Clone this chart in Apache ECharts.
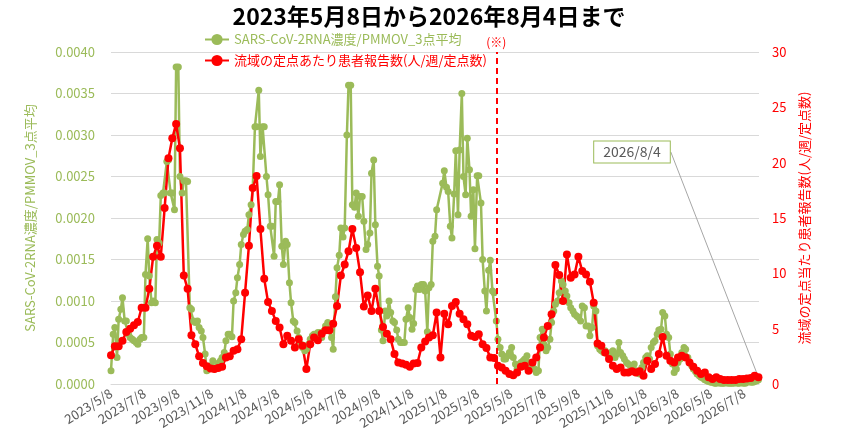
<!DOCTYPE html>
<html>
<head>
<meta charset="utf-8">
<script src="https://cdn.jsdelivr.net/npm/echarts@6/dist/echarts.min.js"></script>
<style>
html, body { margin: 0; padding: 0; background: #fff; }
#chart { width: 858px; height: 444px; }
</style>
</head>
<body>
<div id="chart"></div>
<script>
// axis range and label rule (every other month, on the 8th)
const startDate = [2023, 5, 8];
const endDate = [2026, 8, 4];
const tickMonths = [1, 3, 5, 7, 9, 11];
const tickDay = 8;
const noteDate = '2025/4/11';
const annotText = '2026/8/4';

// 流域の定点あたり患者報告数, weekly from 2023/5/8
const redValues = [
  2.6, 3.4, 3.4, 3.9, 4.7, 5.0, 5.3, 5.6, 6.9, 6.9, 8.6, 11.5, 12.5, 11.5, 15.9, 20.4, 22.2, 23.5, 21.3, 9.8,
  8.6, 4.4, 3.6, 2.5, 1.9, 1.6, 1.4,
  1.35, 1.45, 1.55, 2.4, 2.5, 3.0, 3.15, 4.05, 8.25, 12.5, 17.7, 18.8, 14.0, 9.5, 7.4, 6.6, 5.7, 5.1, 3.6, 4.35,
  3.9, 3.3, 4.05, 3.45, 1.35, 3.6, 4.2,
  3.95, 4.55, 4.85, 4.85, 5.45, 7.05, 9.8, 10.8, 12.0, 14.0, 12.3, 10.1, 7.0, 8.0, 6.6, 8.6, 6.6, 5.15, 4.55,
  4.05, 2.7, 1.95, 1.85, 1.75, 1.55, 1.85,
  1.9, 3.3, 3.85, 4.2, 4.4, 6.45, 2.4, 6.35, 5.4, 7.05, 7.4, 6.35, 5.85, 5.4, 4.35, 4.25, 4.5, 3.6, 3.25, 2.4,
  2.35, 1.65, 1.5, 1.2, 0.9, 0.8, 1.05, 1.55, 1.65,
  1.2, 1.95, 2.4, 3.3, 4.2, 5.25, 6.3, 10.75, 9.85, 7.5, 11.7, 9.6, 9.9, 11.5, 10.2, 9.9, 9.25, 7.35, 3.65,
  3.45, 2.85, 2.25, 1.65, 1.35, 1.5, 1.05, 1.05, 1.15,
  1.05, 1.15, 0.75, 2.1, 1.35, 1.8, 2.7, 4.25, 2.55, 2.1, 1.95, 2.4, 2.55, 2.4, 1.95, 1.55, 1.2, 0.9, 1.05, 0.6,
  0.45, 0.6, 0.45, 0.36, 0.36, 0.36, 0.36, 0.45, 0.45, 0.5, 0.55, 0.75, 0.6
];

// SARS-CoV-2RNA濃度/PMMOV_3点平均, twice a week from 2023/5/8 (null = no sample)
const greenValues = [
  0.00016, 0.0006, 0.00068, 0.00032, 0.00078, 0.0009, 0.00104, 0.00076, 0.00076, 0.0006,
  0.00056, 0.00054, 0.00052, 0.0005, 0.00048, 0.00054, 0.00056, 0.00056, 0.00132, 0.00175,
  0.0013, 0.00098, 0.001, 0.00098, 0.00174, 0.0017, 0.00227, 0.0023, 0.0023, 0.00268,
  0.0027, 0.0023, 0.0023, 0.0021, 0.00382, 0.00382, 0.0025, 0.0023, 0.00245, 0.00245,
  0.00244, 0.00092, 0.0009, 0.00076, 0.00074, 0.00076, 0.00068, 0.00064, 0.00056, 0.00036,
  0.00016, 0.0002, 0.00022, 0.00028,
  0.00018, 0.0002, 0.00025, 0.00028, 0.00032, 0.00038, 0.00052, 0.0006, 0.0006, 0.00057,
  0.001, 0.0011, 0.00128, 0.00144, 0.00168, 0.0018, 0.00184, 0.00186, 0.00204, 0.00216,
  0.00236, 0.0031, 0.0031, 0.00354, 0.00274, 0.0031, 0.0031, 0.0025, 0.00228, 0.0019,
  0.0019, 0.00154, 0.0022, 0.0022, 0.0024, 0.00166, 0.00144, 0.00172, 0.00168, 0.00122,
  0.00098, 0.00076, 0.00074, 0.00064, 0.00056, 0.00048, 0.00044, 0.0004, 0.00042, 0.00048,
  0.00054, 0.00058, 0.0006, 0.0006, 0.00062, 0.00062,
  0.00056, 0.00064, 0.0007, 0.00074, 0.00064, 0.00056, 0.00042, 0.00105, 0.0014, 0.00155,
  0.00188, 0.00177, 0.00188, 0.003, 0.0036, 0.0036, 0.00216, 0.00213, 0.0023, 0.00202,
  0.00226, 0.00226, 0.00196, 0.00162, 0.00168, 0.00182, 0.00254, 0.0027, 0.00192, 0.00142,
  0.0013, 0.00065, 0.00052, 0.00088, 0.00082, 0.001, 0.00086, 0.00076, 0.00074, 0.00065,
  0.00054, 0.0005, 0.0005, 0.0005, 0.00078, 0.00092, 0.0008, 0.00066, 0.00073, 0.00114,
  0.00118, 0.00114, 0.0012,
  0.0012, 0.00112, 0.00063, 0.00116, 0.0012, 0.00172, 0.00178, 0.0021, null, null,
  0.00242, 0.00257, 0.00237, 0.00232, 0.0019, 0.00176, 0.00229, 0.00281, 0.00204, 0.00282,
  0.0035, 0.0025, 0.00228, 0.00296, 0.00258, 0.00202, 0.00234, 0.00163, 0.00251, 0.00251,
  0.00218, 0.0015, 0.00112, 0.00088, 0.00137, 0.00149, 0.00112, 0.0011, 0.00076, 0.00054,
  0.00044, 0.00036, 0.0003, 0.0003, 0.00034, 0.00038, 0.00044, 0.00032, 0.00024, 0.00018,
  0.00022, 0.00026, 0.00028, 0.0003, 0.00034,
  0.00026, 0.00018, 0.00024, 0.00018, 0.00014, 0.00016, 0.00056, 0.00066, 0.00048, 0.0004,
  0.00044, 0.00054, 0.00074, 0.00088, 0.00096, 0.001, 0.0011, 0.00124, 0.0012, 0.00112,
  0.00106, 0.00098, 0.00092, 0.00088, 0.00084, 0.00082, 0.0008, 0.00076, 0.00094, 0.00092,
  0.0007, 0.0007, 0.00058, 0.00068, 0.00094, 0.00088, 0.00046, 0.00042, 0.0004, 0.00038,
  0.0004, 0.00036, 0.00032, 0.00038, 0.0004, 0.00032, 0.00036, 0.0005, 0.00038, 0.00034,
  0.0003, 0.00026, 0.00024, 0.00022, 0.00022, 0.00024,
  0.00016, 0.00013, 0.00012, 0.0002, 0.00026, 0.00032, 0.00034, 0.0003, 0.00044, 0.0005,
  0.00052, 0.0006, 0.00065, 0.00066, 0.00086, 0.00082, 0.0006, 0.00056, 0.00036, 0.00024,
  0.00014, 0.00018, 0.00026, 0.0003, 0.00038, 0.00044, 0.00042, 0.00032, 0.00026, 0.00022,
  0.00018, 0.00015, 0.00012, 0.0001, 0.00008, 0.00007, 0.00005, 0.00004,
  0.00003, 0.00002, 0.00002, 0.00001, 0.00001, 0.00002, 0.00001, 0.00001, 0.00001, 0.00002,
  0.00001, 0.00001, 0.00001, 0.00001, 0.00002, 0.00001, 0.00001, 0.00002, 0.00001, 0.00001,
  0.00002, 0.00003, 0.00002, 0.00002, 0.00003, 0.00004, 0.00005
];

const GREEN = '#9BBB59';
const RED = '#FF0000';
const GREY = '#595959';
const FONT = '"Noto Sans CJK JP", "Noto Sans", sans-serif';

// one category per day
const categories = [];
let t = Date.UTC(startDate[0], startDate[1] - 1, startDate[2]);
const tEnd = Date.UTC(endDate[0], endDate[1] - 1, endDate[2]);
while (t <= tEnd) {
    const d = new Date(t);
    categories.push(d.getUTCFullYear() + '/' + (d.getUTCMonth() + 1) + '/' + d.getUTCDate());
    t += 86400000;
}

const greenData = [];
greenValues.forEach((v, j) => {
    if (v !== null) greenData.push([Math.round(j * 3.5), v]);
});

const redData = redValues.map((v, i) => [i * 7, v]);
const last = redData.length - 1;
redData[last] = {
    value: redData[last],
    label: {
        show: true,
        formatter: annotText,
        color: GREY,
        fontSize: 14,
        fontFamily: FONT,
        backgroundColor: '#fff',
        borderColor: GREEN,
        borderWidth: 1,
        padding: [4, 9, 3, 9]
    },
    labelLine: {show: true, lineStyle: {color: '#a6a6a6', width: 1}}
};

const chart = echarts.init(document.getElementById('chart'));

const option = {
    animation: false,
    textStyle: {fontFamily: FONT},
    title: {
        text: '2023年5月8日から2026年8月4日まで',
        left: 'center',
        top: 0,
        textStyle: {fontSize: 23, fontWeight: 'bold', color: '#000', fontFamily: FONT}
    },
    legend: {
        orient: 'vertical',
        left: 199,
        top: 28,
        itemWidth: 24,
        itemHeight: 14,
        itemGap: 8,
        data: [
            {name: 'SARS-CoV-2RNA濃度/PMMOV_3点平均', textStyle: {color: GREEN}},
            {name: '流域の定点あたり患者報告数(人/週/定点数)', textStyle: {color: RED}}
        ],
        textStyle: {fontSize: 13, fontFamily: FONT}
    },
    grid: {left: 111, right: 99, top: 52, bottom: 60},
    xAxis: {
        type: 'category',
        data: categories,
        boundaryGap: false,
        axisLine: {show: true, lineStyle: {color: '#d9d9d9'}},
        axisTick: {show: false},
        axisLabel: {
            rotate: 32,
            color: GREY,
            fontSize: 13,
            margin: 8,
            interval: function (index, value) {
                const p = value.split('/');
                return +p[2] === tickDay && tickMonths.indexOf(+p[1]) >= 0;
            }
        }
    },
    yAxis: [
        {
            type: 'value',
            min: 0,
            max: 0.004,
            interval: 0.0005,
            name: 'SARS-CoV-2RNA濃度/PMMOV_3点平均',
            nameLocation: 'middle',
            nameGap: 74,
            nameTextStyle: {color: GREEN, fontSize: 13},
            axisLine: {show: false},
            axisTick: {show: false},
            axisLabel: {color: GREEN, fontSize: 13, margin: 16, formatter: v => v.toFixed(4)},
            splitLine: {lineStyle: {color: '#d9d9d9'}}
        },
        {
            type: 'value',
            min: 0,
            max: 30,
            interval: 5,
            position: 'right',
            name: '流域の定点当たり患者報告数(人/週/定点数)',
            nameLocation: 'middle',
            nameGap: 39,
            nameRotate: 90,
            nameTextStyle: {color: RED, fontSize: 13},
            axisLine: {show: false},
            axisTick: {show: false},
            axisLabel: {color: RED, fontSize: 13, margin: 13},
            splitLine: {show: false}
        }
    ],
    series: [
        {
            name: 'SARS-CoV-2RNA濃度/PMMOV_3点平均',
            type: 'line',
            yAxisIndex: 0,
            data: greenData,
            symbol: 'circle',
            symbolSize: 7,
            showAllSymbol: true,
            color: GREEN,
            lineStyle: {width: 2.5, color: GREEN},
            itemStyle: {color: GREEN}
        },
        {
            name: '流域の定点あたり患者報告数(人/週/定点数)',
            type: 'line',
            yAxisIndex: 1,
            data: redData,
            symbol: 'circle',
            symbolSize: 8,
            showAllSymbol: true,
            color: RED,
            lineStyle: {width: 2.5, color: RED},
            itemStyle: {color: RED},
            labelLayout: function (params) {
                if (params.dataIndex !== last) return {};
                return {x: 632, y: 152, align: 'center', verticalAlign: 'middle'};
            },
            markLine: {
                silent: true,
                symbol: 'none',
                data: [{xAxis: categories.indexOf(noteDate)}],
                lineStyle: {color: RED, type: [6, 4], width: 2},
                label: {show: true, position: 'end', formatter: '(※)', color: RED, fontSize: 12, distance: 4}
            }
        }
    ]
};

chart.setOption(option);
</script>
</body>
</html>
